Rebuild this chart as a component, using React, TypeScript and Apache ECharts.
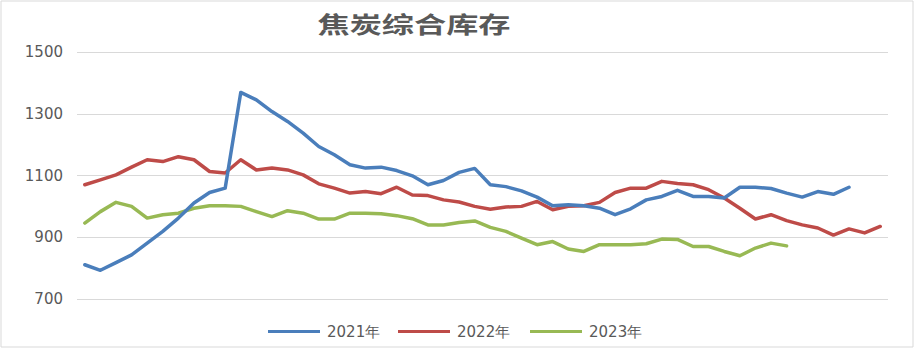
import React, { useEffect, useRef } from "react";
import * as echarts from "echarts";

const weeks = [
  "1", "2", "3", "4", "5", "6", "7", "8", "9", "10",
  "11", "12", "13", "14", "15", "16", "17", "18", "19", "20",
  "21", "22", "23", "24", "25", "26", "27", "28", "29", "30",
  "31", "32", "33", "34", "35", "36", "37", "38", "39", "40",
  "41", "42", "43", "44", "45", "46", "47", "48", "49", "50",
  "51", "52",
];

const seriesNames = ["2021年", "2022年", "2023年"];

const data2021 = [
  811, 793, 818, 843, 881, 919, 962, 1011, 1045, 1059,
  1369, 1345, 1307, 1275, 1237, 1194, 1167, 1135, 1124, 1127,
  1116, 1099, 1070, 1084, 1110, 1123, 1070, 1064, 1050, 1030,
  1002, 1005, 1002, 994, 973, 992, 1021, 1032, 1052, 1032,
  1032, 1027, 1062, 1062, 1058, 1043, 1030, 1048, 1039, 1062,
];

const data2022 = [
  1070, 1086, 1102, 1127, 1151, 1145, 1161, 1151, 1113, 1108,
  1151, 1118, 1124, 1118, 1102, 1073, 1059, 1043, 1048, 1041,
  1062, 1037, 1035, 1021, 1014, 1000, 991, 998, 1000, 1016,
  989, 1000, 1002, 1013, 1045, 1059, 1059, 1081, 1074, 1070,
  1054, 1027, 994, 959, 973, 954, 940, 930, 907, 927,
  914, 935,
];

const data2023 = [
  946, 983, 1013, 1000, 962, 973, 978, 994, 1002, 1002,
  1000, 983, 967, 986, 978, 959, 959, 978, 978, 976,
  970, 960, 940, 940, 948, 953, 932, 919, 897, 876,
  886, 862, 854, 876, 876, 876, 879, 894, 893, 870,
  870, 854, 840, 865, 881, 872,
];

const colors = ["#4A7EBB", "#BE4B48", "#98B954"];
const legendLefts = [263, 393, 525];

export default function App() {
  const ref = useRef<HTMLDivElement>(null);

  useEffect(() => {
    document.body.style.margin = "0";
    if (!ref.current) return;
    const chart = echarts.init(ref.current, undefined, { renderer: "svg" });
    const allData = [data2021, data2022, data2023];
    chart.setOption({
      animation: false,
      backgroundColor: "#ffffff",
      graphic: [
        {
          type: "rect",
          silent: true,
          z: -10,
          shape: { x: 1, y: 1, width: 912, height: 346 },
          style: { fill: "none", stroke: "#d9d9d9", lineWidth: 1 },
        },
        {
          type: "text",
          x: 414,
          y: 23,
          scaleX: 1.4,
          style: {
            text: "焦炭综合库存",
            font: 'bold 23px "Noto Sans CJK SC"',
            fill: "#595959",
            align: "center",
            verticalAlign: "middle",
          },
        },
      ],
      legend: seriesNames.map((name, i) => ({
        data: [name],
        left: legendLefts[i],
        top: 319,
        orient: "horizontal",
        icon: "rect",
        itemWidth: 52,
        itemHeight: 3,
        itemGap: 0,
        textStyle: {
          color: "#595959",
          fontSize: 15,
          fontFamily: "DejaVu Sans",
          padding: [0, 0, 0, 2],
        },
      })),
      grid: { left: 77, right: 29, top: 52, bottom: 52, containLabel: false },
      xAxis: {
        type: "category",
        data: weeks,
        boundaryGap: true,
        axisLine: { show: false },
        axisTick: { show: false },
        axisLabel: { show: false },
        splitLine: { show: false },
      },
      yAxis: {
        type: "value",
        min: 700,
        max: 1500,
        interval: 200,
        axisLine: { show: false },
        axisTick: { show: false },
        axisLabel: {
          color: "#595959",
          fontSize: 15,
          fontFamily: "DejaVu Sans",
          margin: 14,
          formatter: (v: number) => String(v),
        },
        splitLine: { lineStyle: { color: "#d9d9d9", width: 1 } },
      },
      series: seriesNames.map((name, i) => ({
        name,
        type: "line",
        data: allData[i],
        symbol: "none",
        color: colors[i],
        itemStyle: { color: colors[i] },
        lineStyle: { color: colors[i], width: 3.5, join: "round", cap: "round" },
        z: 3 - i,
      })),
    });
    return () => chart.dispose();
  }, []);

  return <div ref={ref} style={{ width: 917, height: 351 }} />;
}
